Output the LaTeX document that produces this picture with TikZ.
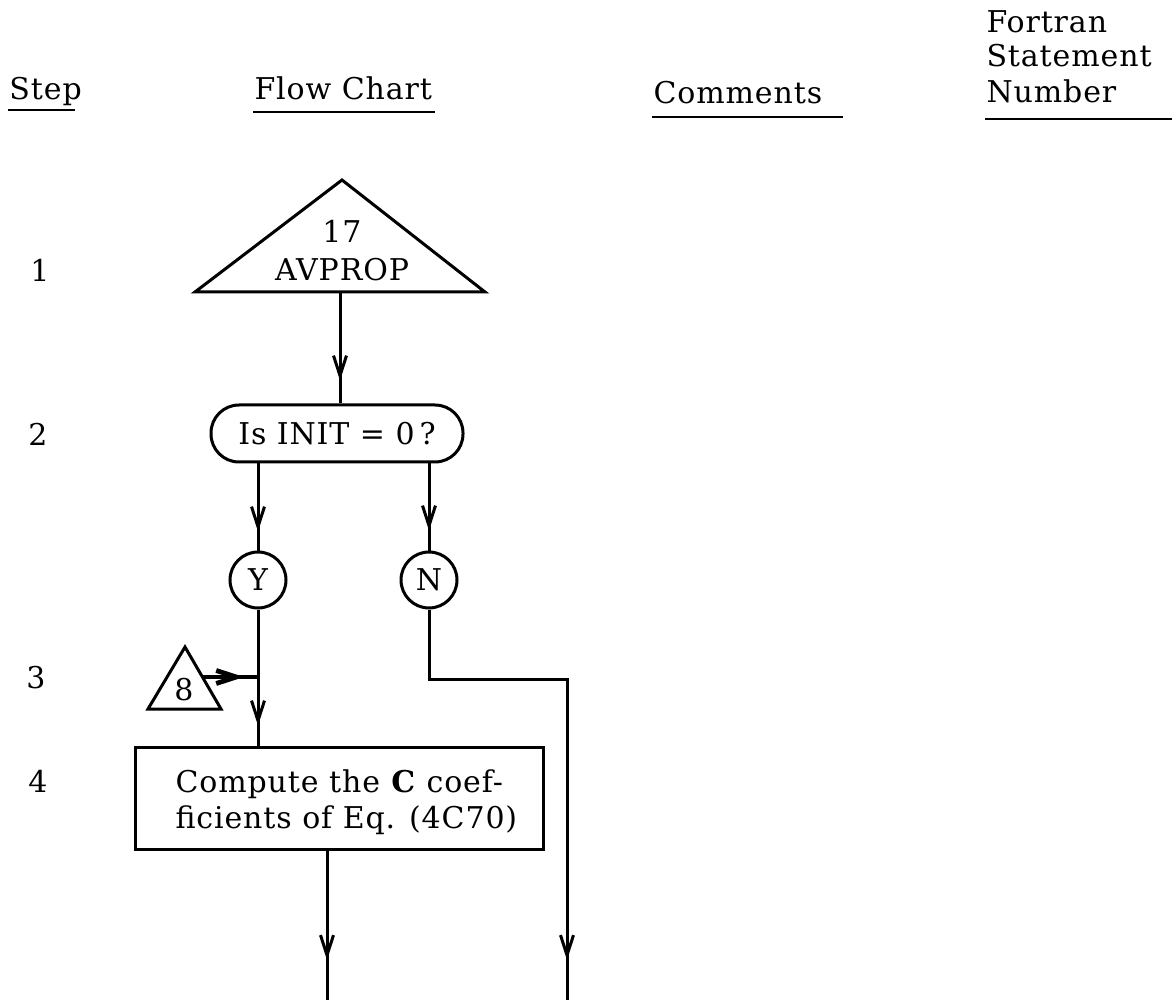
\documentclass[tikz,border=0pt]{standalone}
\usepackage{fontspec}
\setmainfont{DejaVu Serif}[LetterSpace=3]
\usetikzlibrary{arrows.meta,decorations.markings}

\begin{document}
\begin{tikzpicture}[x=0.5pt,y=-0.5pt,line width=1.5pt,
  every node/.style={font=\fontsize{15}{18}\selectfont,inner sep=0pt},
  label/.style={anchor=base west},
  stepno/.style={anchor=base},
  ring/.style={draw,circle,minimum size=28pt},
  midarrow/.style={postaction={decorate},decoration={markings,
      mark=at position #1 with {\arrow{Straight Barb[length=10pt,width=6.5pt]}}}},
  rule/.style={line width=1.2pt}]
\useasboundingbox (0,0) rectangle (1174,1000);

% column headings
\node[label] (hstep) at (8,100) {Step};
\node[label] (hflow) at (253,100) {Flow Chart};
\node[label] (hcomm) at (652,104) {Comments};
\node[label] (hfor)  at (985,33) {Fortran};
\node[label] (hstat) at (985,67) {Statement};
\node[label] (hnum)  at (985,103) {Number};
\draw[rule] (8,110) -- (75,110);
\draw[rule] (253,112) -- (435,112);
\draw[rule] (652,117) -- (843,117);
\draw[rule] (985,119) -- (1172,119);

% step numbers
\node[stepno] (s1) at (40,282) {1};
\node[stepno] (s2) at (38,445) {2};
\node[stepno] (s3) at (36,688) {3};
\node[stepno] (s4) at (38,792) {4};

% step 1: entry triangle
\draw (195,292) -- (342,180) -- (485,292) -- cycle;
\node[anchor=base] (t17a) at (342,243) {17};
\node[anchor=base] (t17b) at (342,281) {AVPROP};
\coordinate (t17out) at (340,292);

% step 2: decision
\node[draw,rounded corners=14pt,minimum width=126pt,minimum height=28.5pt]
  (init) at (337,433.5) {Is INIT = 0\,?};
\draw[midarrow=-11.5pt] (t17out) -- (t17out |- init.north);

\node[ring] (yc) at (258,580) {Y};
\node[ring] (nc) at (429,580) {N};
\draw[midarrow=-9.5pt] (init.south -| yc) -- (yc.north);
\draw[midarrow=-10pt] (init.south -| nc) -- (nc.north);

% step 3: re-entry point 8
\draw (148,709) -- (185,647) -- (221,709) -- cycle;
\node (t8) at (184,690) {8};
\coordinate (t8out) at (203,677);
\coordinate (j8) at (258,677);
\draw[line width=2.4pt,midarrow=-7pt] (t8out) -- (j8);

% step 4: computation box
\node[draw,minimum width=204pt,minimum height=51pt] (comp) at (339,798) {};
\node[label] (c1) at (174,792) {Compute the \textbf{C} coef-};
\node[label] (c2) at (174,828) {ficients of Eq. (4C70)};
\draw[midarrow=-10pt] (yc.south) -- (yc.south |- comp.north);

% exits
\coordinate (endL) at (327,1000);
\coordinate (nr) at (567,679);
\coordinate (endR) at (567,1000);
\draw[midarrow=-20pt] (comp.south -| endL) -- (endL);
\draw[midarrow=-20pt] (nc.south) |- (nr) -- (endR);
\end{tikzpicture}
\end{document}
